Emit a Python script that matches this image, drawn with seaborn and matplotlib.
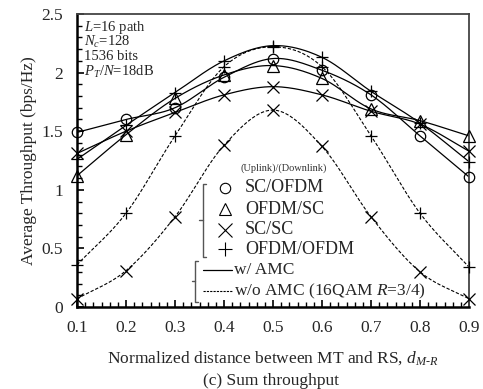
import numpy as np
import matplotlib
matplotlib.use("Agg")
import matplotlib.pyplot as plt
from matplotlib.lines import Line2D
from matplotlib.ticker import MultipleLocator
import seaborn as sns

# ---------------- data ----------------
d_mr = [0.1, 0.2, 0.3, 0.4, 0.5, 0.6, 0.7, 0.8, 0.9]
sc_ofdm_amc = [1.49, 1.60, 1.70, 1.96, 2.12, 2.02, 1.81, 1.46, 1.11]
ofdm_sc_amc = [1.12, 1.47, 1.78, 1.98, 2.06, 1.95, 1.69, 1.59, 1.46]
sc_sc_amc = [1.31, 1.50, 1.66, 1.81, 1.88, 1.81, 1.67, 1.56, 1.33]
ofdm_ofdm_amc = [1.26, 1.55, 1.83, 2.10, 2.23, 2.13, 1.84, 1.57, 1.24]
ofdm_ofdm_fixed = [0.36, 0.80, 1.46, 2.05, 2.22, 2.05, 1.46, 0.80, 0.34]
sc_sc_fixed = [0.07, 0.31, 0.77, 1.38, 1.68, 1.37, 0.77, 0.30, 0.07]
x_ticks = [0.1, 0.2, 0.3, 0.4, 0.5, 0.6, 0.7, 0.8, 0.9]
y_ticks = [0, 0.5, 1, 1.5, 2, 2.5]
scheme_labels = ["SC/OFDM", "OFDM/SC", "SC/SC", "OFDM/OFDM"]
amc_labels = ["w/ AMC", "w/o AMC (16QAM $R$=3/4)"]

# ---------------- style ----------------
sns.set_style("ticks")
plt.rcParams["font.family"] = ["Liberation Serif", "DejaVu Serif"]
plt.rcParams["mathtext.fontset"] = "custom"
plt.rcParams["mathtext.rm"] = "Liberation Serif"
plt.rcParams["mathtext.it"] = "Liberation Serif:italic"
plt.rcParams["mathtext.bf"] = "Liberation Serif:bold"

W, H = 483, 389
fig = plt.figure(figsize=(W / 100, H / 100), dpi=100)
ax = fig.add_axes([77 / W, 1 - 307 / H, (469 - 77) / W, (307 - 14) / H])


def smooth(x, y, n=24):
    """Catmull-Rom smoothing of the line through the data points (like Excel smoothed lines)."""
    x = np.asarray(x, float)
    y = np.asarray(y, float)
    P = np.column_stack([x, y])
    P = np.vstack([2 * P[0] - P[1], P, 2 * P[-1] - P[-2]])
    out = []
    t = np.linspace(0, 1, n)[:, None]
    for i in range(1, len(P) - 2):
        p0, p1, p2, p3 = P[i - 1], P[i], P[i + 1], P[i + 2]
        seg = 0.5 * ((2 * p1) + (-p0 + p2) * t + (2 * p0 - 5 * p1 + 4 * p2 - p3) * t ** 2
                     + (-p0 + 3 * p1 - 3 * p2 + p3) * t ** 3)
        out.append(seg if i == len(P) - 3 else seg[:-1])
    S = np.vstack(out)
    return S[:, 0], S[:, 1]


series = [
    (sc_ofdm_amc, "o", "solid"),
    (ofdm_sc_amc, "^", "solid"),
    (sc_sc_amc, "x", "solid"),
    (ofdm_ofdm_amc, "+", "solid"),
    (ofdm_ofdm_fixed, "+", "dash"),
    (sc_sc_fixed, "x", "dash"),
]

for vals, mk, ls in series:
    xs, ys = smooth(d_mr, vals)
    l = sns.lineplot(x=xs, y=ys, ax=ax, sort=False, estimator=None, color="black",
                     lw=0.9 if ls == "solid" else 0.8)
    if ls == "dash":
        l.lines[-1].set_dashes((3, 1.6))
    if mk in ("o", "^"):
        ax.plot(d_mr, vals, linestyle="none", marker=mk, markersize=7.5 if mk == "o" else 8,
                markerfacecolor="none", markeredgecolor="black", markeredgewidth=0.9,
                clip_on=False, zorder=3)
    else:
        ax.plot(d_mr, vals, linestyle="none", marker=mk, markersize=8,
                color="black", markeredgewidth=0.9, clip_on=False, zorder=3)

ax.set_xlim(0.1, 0.9)
ax.set_ylim(0, 2.5)
ax.set_xticks(x_ticks)
ax.set_xticklabels([f"{v:.1f}" for v in x_ticks])
ax.set_yticks(y_ticks)
ax.set_yticklabels(["0", "0.5", "1", "1.5", "2", "2.5"])
ax.xaxis.set_minor_locator(MultipleLocator(0.1 / 6))
ax.yaxis.set_minor_locator(MultipleLocator(0.1))
ax.tick_params(axis="both", which="both", direction="in", labelsize=12.5, color="black")
ax.tick_params(axis="x", which="major", length=5, width=1.2, pad=9)
ax.tick_params(axis="x", which="minor", length=3.5, width=1.0)
ax.tick_params(axis="y", which="major", length=5, width=1.2, pad=10)
ax.tick_params(axis="y", which="minor", length=3.5, width=1.0)
ax.tick_params(top=False, right=False, which="both")

for side in ("left", "bottom"):
    ax.spines[side].set_linewidth(1.8)
    ax.spines[side].set_color("black")
for side in ("top", "right"):
    ax.spines[side].set_linewidth(1.3)
    ax.spines[side].set_color("#444444")

ax.set_xlabel("Normalized distance between MT and RS, $d_{M\\text{-}R}$", fontsize=12.5, labelpad=10)
ax.set_ylabel("Average Throughput (bps/Hz)", fontsize=12.5, labelpad=3)
fig.text(271 / W, 1 - 381 / H, "(c) Sum throughput", ha="center", va="center", fontsize=12.5)

# annotation block
notes = ["$L$=16 path", "$N_c$=128", "1536 bits", "$P_T$/$N$=18dB"]
for i, t in enumerate(notes):
    fig.text(84 / W, 1 - (27 + 15 * i) / H, t, ha="left", va="center", fontsize=10.5)


# ---------------- custom legend ----------------
def fx(px):
    return px / W


def fy(py):
    return 1 - py / H


def fline(xs, ys, **kw):
    fig.add_artist(Line2D([fx(v) for v in xs], [fy(v) for v in ys], transform=fig.transFigure, **kw))


fig.text(fx(284), fy(168), "(Uplink)/(Downlink)", ha="center", va="center", fontsize=7.5, color="#333333")

rows_y = [188, 209, 230, 249]
markers = ["o", "^", "x", "+"]
for yy, mk, lab in zip(rows_y, markers, scheme_labels):
    if mk in ("o", "^"):
        fig.add_artist(Line2D([fx(225)], [fy(yy)], transform=fig.transFigure, linestyle="none",
                              marker=mk, markersize=7.5 if mk == "o" else 9, markerfacecolor="none",
                              markeredgecolor="black", markeredgewidth=0.8))
    else:
        fig.add_artist(Line2D([fx(225)], [fy(yy)], transform=fig.transFigure, linestyle="none",
                              marker=mk, markersize=10, color="black", markeredgewidth=0.8))
    fig.text(fx(245), fy(yy), lab, ha="left", va="center", fontsize=13)

bc = "#555555"
# bracket 1
fline([206, 203, 203, 206], [184, 184, 257, 257], color=bc, lw=1.0)
fline([203, 199], [220, 220], color=bc, lw=1.0)
# bracket 2
fline([198, 195, 195, 198], [261, 261, 302, 302], color=bc, lw=1.0)
fline([195, 192], [281, 281], color=bc, lw=1.0)

fline([203, 232], [270, 270], color="black", lw=0.9)
fline([203, 232], [291, 291], color="black", lw=0.8, dashes=(2, 1))
fig.text(fx(234), fy(270), amc_labels[0], ha="left", va="center", fontsize=12.5)
fig.text(fx(234), fy(291), amc_labels[1], ha="left", va="center", fontsize=12.5)

fig.savefig("out.png", dpi=100)
